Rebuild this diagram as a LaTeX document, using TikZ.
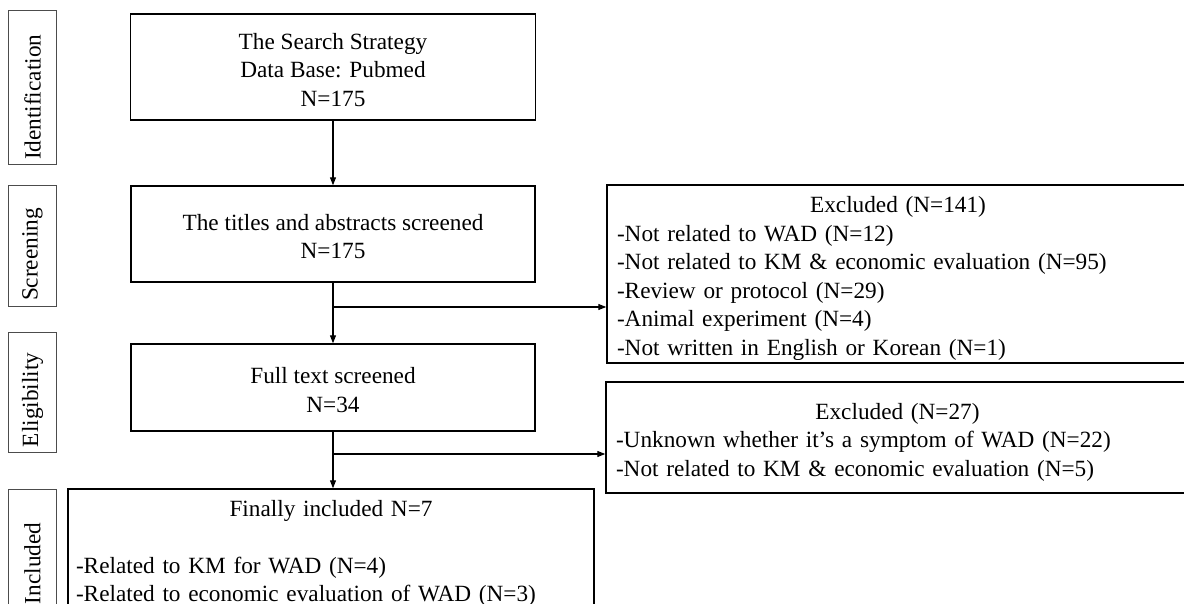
\documentclass[tikz,border=0pt]{standalone}
\usepackage{fontspec}
\setmainfont{Liberation Serif}
\usetikzlibrary{arrows.meta}
\newcommand\fsz{\fontsize{23.25}{28.5}\selectfont}
\newcommand\tupA{\rule{0pt}{21.5pt}}
\newcommand\tupB{\rule{0pt}{25pt}}
\begin{document}
\begin{tikzpicture}[x=1pt,y=-1pt,
  box/.style={draw=black, line width=1.4pt, inner sep=0pt, font=\fsz, align=center},
  lab/.style={draw=black!70, line width=1pt, inner xsep=5pt, inner ysep=0pt, rotate=90,
    font=\fsz, minimum height=48pt, align=left},
  arr/.style={-{Triangle[length=8pt,width=6pt]}, line width=1.1pt}]
\useasboundingbox (0,0) rectangle (1184,604);
\clip (0,0) rectangle (1184,604);
% stage labels
\node[lab, text width=144pt] (l1) at (32.5,88) {Identification};
\node[lab, text width=110pt] (l2) at (32.5,246) {Screening};
\node[lab, text width=110pt] (l3) at (32.5,392) {Eligibility};
\node[lab, text width=110pt] (l4) at (32.5,549) {Included};
% main boxes
\node[box, minimum width=405pt, minimum height=106pt] (id) at (333,67)
  {\tupA The Search Strategy\\Data Base: Pubmed\\N=175};
\node[box, minimum width=404pt, minimum height=96pt] (scr) at (333,234)
  {\tupA The titles and abstracts screened\\N=175};
\node[box, minimum width=404pt, minimum height=87pt] (full) at (333,387.5)
  {\tupA Full text screened\\N=34};
\node[box, minimum width=526pt, minimum height=123pt, align=left, text width=510pt] (inc) at (331,550.5)
  {\makebox[510pt]{\tupA Finally included N=7}\\[28.5pt]
   -Related to KM for WAD (N=4)\\
   -Related to economic evaluation of WAD (N=3)};
% excluded boxes
\node[box, minimum width=582pt, minimum height=178pt, align=left, text width=562pt] (ex1) at (898,274)
  {\makebox[562pt]{\tupB Excluded (N=141)}\\
   -Not related to WAD (N=12)\\
   -Not related to KM \& economic evaluation (N=95)\\
   -Review or protocol (N=29)\\
   -Animal experiment (N=4)\\
   -Not written in English or Korean (N=1)};
\node[box, minimum width=583pt, minimum height=111pt, align=left, text width=563pt] (ex2) at (897.5,437.5)
  {\makebox[563pt]{\tupB Excluded (N=27)}\\
   -Unknown whether it’s a symptom of WAD (N=22)\\
   -Not related to KM \& economic evaluation (N=5)};
% connectors
\draw[arr] (id) -- (scr);
\draw[arr] (scr) -- (full);
\draw[arr] (full.south) -- (full.south |- inc.north);
\coordinate (b1) at (333,307);
\coordinate (b2) at (333,454);
\draw[arr] (b1) -- (b1 -| ex1.west);
\draw[arr] (b2) -- (b2 -| ex2.west);
\end{tikzpicture}
\end{document}
